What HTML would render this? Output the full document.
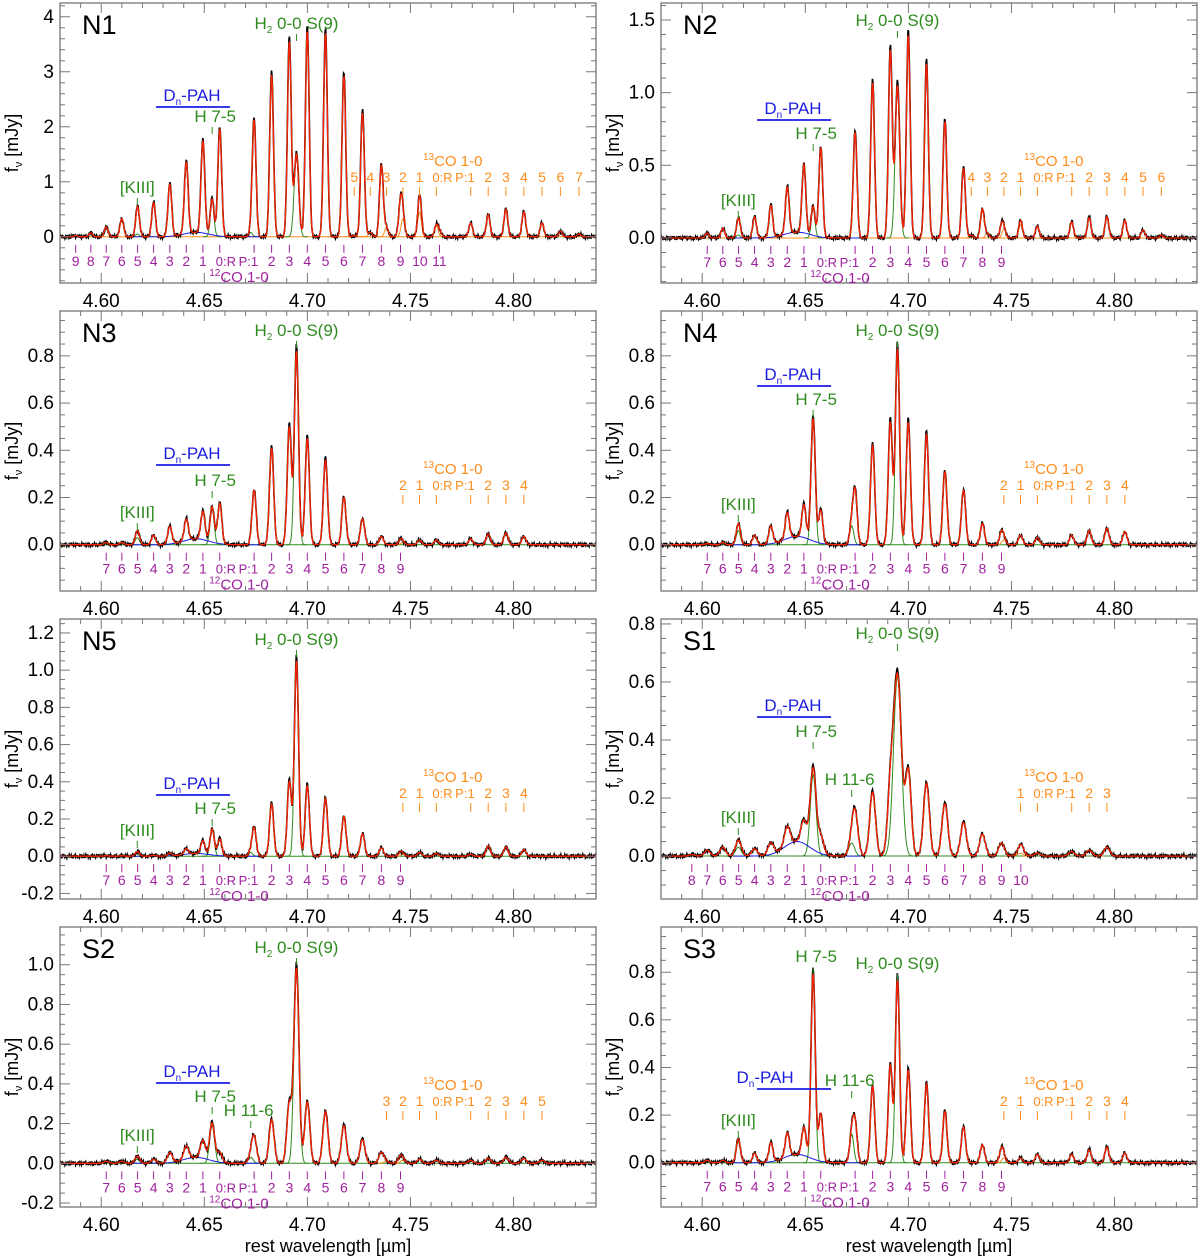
<!DOCTYPE html>
<html><head><meta charset="utf-8"><style>
html,body{margin:0;padding:0;background:#fff;}
svg{display:block;font-family:"Liberation Sans",Arial,sans-serif;}
</style></head><body>
<svg id="fig" width="1200" height="1259" viewBox="0 0 1200 1259" xmlns="http://www.w3.org/2000/svg"></svg>
<script>
// ---- data ----
const panelNames = ['N1','N2','N3','N4','N5','S1','S2','S3'];
const yMin = [-0.84,-0.31,-0.196,-0.196,-0.23,-0.148,-0.22,-0.186];
const yMax = [4.25,1.617,0.99,0.99,1.275,0.817,1.19,0.99];
const yMajor = [1,0.5,0.2,0.2,0.2,0.2,0.2,0.2];
const yMinor = [0.2,0.1,0.05,0.05,0.05,0.05,0.05,0.05];
const yDec = [0,1,1,1,1,1,1,1];
const xTicks = [4.60,4.65,4.70,4.75,4.80];
const xTickLabels = ['4.60','4.65','4.70','4.75','4.80'];
const lineSigma = [0.0009,0.0009,0.001,0.001,0.001,0.0014,0.0012,0.001];
const h2Sigma = [0.0011,0.0011,0.001,0.001,0.001,0.0019,0.0012,0.001];
// 12CO 1-0 R(0..) and P(1..) peak fluxes [mJy]
const co12R = [
 [1.95,1.68,1.3,0.95,0.62,0.50,0.33,0.18,0.07,0.02],
 [0.615,0.47,0.32,0.22,0.145,0.12,0.067,0.034],
 [0.17,0.12,0.09,0.075,0.04,0.03,0.01,0.01],
 [0.14,0.14,0.11,0.075,0.04,0.03,0.01,0.005],
 [0.09,0.07,0.03,0.015,0.005,0.01,0.003,0.003],
 [0.06,0.08,0.065,0.04,0.025,0.025,0.03,0.02,0.005],
 [0.05,0.09,0.065,0.05,0.02,0.015,0.01,0.01],
 [0.2,0.12,0.1,0.08,0.04,0.01,0.01,0.01]];
const co12P = [
 [2.12,2.95,3.55,3.75,3.7,2.92,2.25,1.3,0.6,0.3,0.1],
 [0.73,1.07,1.29,1.40,1.2,0.8,0.48,0.2,0.08,0.03],
 [0.23,0.41,0.5,0.45,0.36,0.2,0.11,0.035,0.02],
 [0.22,0.42,0.52,0.52,0.47,0.31,0.23,0.09,0.05],
 [0.15,0.28,0.4,0.38,0.31,0.215,0.12,0.045,0.02],
 [0.14,0.22,0.2,0.29,0.25,0.18,0.115,0.075,0.045,0.03],
 [0.13,0.22,0.3,0.31,0.26,0.19,0.12,0.055,0.03],
 [0.16,0.32,0.41,0.39,0.33,0.215,0.15,0.075,0.055]];
const co13R = [[0.2,0.45,0.33,0.17,0.08,0.02],[0.08,0.09,0.06,0.03,0.02],[0.02,0.02,0.01],[0.03,0.04,0.02],[0.015,0.02,0.01],[0.01,0.01],[0.015,0.02,0.015,0.01],[0.035,0.02,0.02]];
const co13P = [[0.25,0.4,0.5,0.45,0.25,0.1,0.05],[0.11,0.14,0.145,0.12,0.055,0.02],[0.025,0.045,0.05,0.035],[0.04,0.06,0.07,0.055],[0.01,0.055,0.05,0.035],[0.015,0.02,0.03],[0.015,0.025,0.03,0.025,0.015],[0.035,0.055,0.065,0.04]];
const h2Amp = [1.5,1.05,0.82,0.83,1.05,0.62,0.98,0.77];
const h75Amp = [0.65,0.2,0.15,0.52,0.14,0.28,0.19,0.78];
const kiiiAmp = [0.05,0.02,0.03,0.06,0.015,0.03,0.02,0.09];
const h116Amp = [0.08,0.0,0.0,0.08,0.02,0.045,0.03,0.12];
const pahAmp = [0.08,0.04,0.025,0.035,0.015,0.05,0.03,0.035];
// label lists
const co12RLab = [9,7,7,7,7,8,7,7];
const co12PLab = [11,9,9,9,9,10,9,9];
const co13RLab = [5,4,2,2,2,1,3,2];
const co13PLab = [7,6,4,4,4,3,5,4];
const hasH116 = [false,false,false,false,false,true,true,true];
// annotation vertical positions (px from panel top)
const h2LabY = [21,18,20,20,21,15,21,37];
const h75LabY = [114,131,170,89,190,113,170,30];
const pahLabY = [93,106,143,64,165,87,145,151];
const kiiiLabY = [185,198,202,194,212,199,209,194];
const h116LabY = [0,0,0,0,0,161,184,154];

// ---- constants ----
const L0=4.58, L1=4.84;
const LAM_H2=4.6947, LAM_H75=4.6538, LAM_KIII=4.6175, LAM_H116=4.6725, LAM_PAH=4.646, SIG_PAH=0.0062;
const GREEN='#2e8b1e', PURPLE='#a020a0', ORANGE='#ff8c1a', BLUE='#1c1ce0', RED='#ff2200';
const svg=document.getElementById('fig');
const NS='http://www.w3.org/2000/svg';
function mk(tag,attrs,parent){const e=document.createElementNS(NS,tag);for(const k in attrs)e.setAttribute(k,attrs[k]);(parent||svg).appendChild(e);return e;}
function co12Rlam(J){const m=J+1;return 1e4/(2143.27+3.8275*m-0.0175*m*m);}
function co12Plam(J){const m=-J;return 1e4/(2143.27+3.8275*m-0.0175*m*m);}
function co13Rlam(J){const m=J+1;return 1e4/(2096.07+3.659*m-0.0167*m*m);}
function co13Plam(J){const m=-J;return 1e4/(2096.07+3.659*m-0.0167*m*m);}
function g(l,c,a,s){const d=(l-c)/s;return a*Math.exp(-0.5*d*d);}

for(let p=0;p<8;p++){
  const col=p%2,row=Math.floor(p/2);
  const x0=col?661:60, x1=col?1197:596, top=3+row*308, bot=top+280;
  const X=l=>x0+(l-L0)/(L1-L0)*(x1-x0);
  const Y=v=>bot-(v-yMin[p])/(yMax[p]-yMin[p])*(bot-top);
  const G=mk('g',{});
  
  
  const sg=lineSigma[p];
  const comps=[];
  co12R[p].forEach((a,J)=>comps.push({c:co12Rlam(J),a:a,s:sg,k:'co'}));
  co12P[p].forEach((a,i)=>comps.push({c:co12Plam(i+1),a:a,s:sg,k:'co'}));
  co13R[p].forEach((a,J)=>comps.push({c:co13Rlam(J),a:a,s:sg,k:'c13'}));
  co13P[p].forEach((a,i)=>comps.push({c:co13Plam(i+1),a:a,s:sg,k:'c13'}));
  comps.push({c:LAM_H2,a:h2Amp[p],s:h2Sigma[p],k:'gr'});
  comps.push({c:LAM_H75,a:h75Amp[p],s:sg,k:'gr'});
  comps.push({c:LAM_KIII,a:kiiiAmp[p],s:sg,k:'gr'});
  comps.push({c:LAM_H116,a:h116Amp[p],s:sg,k:'gr'});
  comps.push({c:LAM_PAH,a:pahAmp[p],s:SIG_PAH,k:'pah'});
  const N=1100, lams=[];
  for(let i=0;i<=N;i++)lams.push(L0+(L1-L0)*i/N);
  const model=lams.map(l=>comps.reduce((s,c)=>s+g(l,c.c,c.a,c.s),0));
  const clip=mk('clipPath',{id:'clip'+p},G);
  mk('rect',{x:x0,y:top,width:x1-x0,height:280},clip);
  const pl=mk('g',{'clip-path':'url(#clip'+p+')'},G);
  const z=mk('line',{x1:x0,x2:x1,y1:Y(0),y2:Y(0),stroke:p<2?ORANGE:GREEN,'stroke-width':1},pl);
  
  
  const drawComp=(c,color,name)=>{
    const lo=c.c-5*c.s, hi=c.c+5*c.s;let d='';
    for(let i=0;i<=60;i++){const l=lo+(hi-lo)*i/60;d+=(i?'L':'M')+X(l).toFixed(1)+','+Y(g(l,c.c,c.a,c.s)).toFixed(1);}
    const e=mk('path',{d:d,fill:'none',stroke:color,'stroke-width':1},pl);
    
    
  };
  comps.forEach(c=>{
    if(c.a<=0)return;
    if(c.k==='gr')drawComp(c,GREEN,'gaussian-component-green');
    else if(c.k==='pah')drawComp(c,BLUE,'pah-component');
    else if(c.k==='c13')drawComp(c,ORANGE,'co13-component');
  });
  const rng=yMax[p]-yMin[p];
  let dB='',dR='';
  lams.forEach((l,i)=>{
    const w=0.004*rng*(Math.sin(i*1.7)+0.6*Math.sin(i*0.53+p)+0.4*Math.sin(i*3.1));
    dB+=(i?'L':'M')+X(l).toFixed(1)+','+Y(model[i]*1.025+w).toFixed(1);
    dR+=(i?'L':'M')+X(l).toFixed(1)+','+Y(model[i]).toFixed(1);
  });
  const bl=mk('path',{d:dB,fill:'none',stroke:'#000','stroke-width':1.6},pl);
  
  
  const rl=mk('path',{d:dR,fill:'none',stroke:RED,'stroke-width':1.3},pl);
  
  
  const fr=mk('rect',{x:x0,y:top,width:x1-x0,height:280,fill:'none',stroke:'#777','stroke-width':1.3},G);
  
  
  for(let l=4.58;l<=4.8401;l+=0.01){
    const major=Math.abs(Math.round(l*100)%5)===0, len=major?10:5, xx=X(l);
    mk('line',{x1:xx,x2:xx,y1:bot,y2:bot-len,stroke:'#777','stroke-width':1},G);
    mk('line',{x1:xx,x2:xx,y1:top,y2:top+len,stroke:'#777','stroke-width':1},G);
  }
  xTicks.forEach((l,i)=>{
    const t=mk('text',{x:X(l),y:bot+24,'text-anchor':'middle','font-size':19,fill:'#000'},G);
    t.textContent=xTickLabels[i];
    
    
  });
  const s0=Math.ceil(yMin[p]/yMinor[p]-1e-6), s1=Math.floor(yMax[p]/yMinor[p]+1e-6);
  for(let k=s0;k<=s1;k++){
    const v=k*yMinor[p], yy=Y(v);
    const major=Math.abs(v/yMajor[p]-Math.round(v/yMajor[p]))<1e-6, len=major?10:5;
    mk('line',{x1:x0,x2:x0+len,y1:yy,y2:yy,stroke:'#777','stroke-width':1},G);
    mk('line',{x1:x1,x2:x1-len,y1:yy,y2:yy,stroke:'#777','stroke-width':1},G);
    if(major){
      const t=mk('text',{x:x0-6,y:yy+6,'text-anchor':'end','font-size':19,fill:'#000'},G);
      t.textContent=(Math.abs(v)<1e-9?0:v).toFixed(yDec[p]);
      
      
    }
  }
  const yt=mk('text',{x:0,y:0,'text-anchor':'middle','font-size':18,fill:'#000',transform:'translate('+(x0-42)+','+(top+140)+') rotate(-90)'},G);
  yt.innerHTML='f<tspan font-size="11" dy="4">ν</tspan><tspan dy="-4"> [mJy]</tspan>';
  
  
  const pn=mk('text',{x:x0+22,y:top+31,'font-size':27,fill:'#000'},G);
  pn.textContent=panelNames[p];
  
  
  const lab=(x,yc,html,color,size,name,anchor)=>{
    const t=mk('text',{x:x,y:yc+5,'text-anchor':anchor||'middle','font-size':size,fill:color},G);
    t.innerHTML=html;
    
    
    return t;
  };
  const tk=(x,ya,yb,color)=>mk('line',{x1:x,x2:x,y1:ya,y2:yb,stroke:color,'stroke-width':1},G);
  lab(X(LAM_H2),top+h2LabY[p],'H<tspan font-size="10" dy="4">2</tspan><tspan dy="-4"> 0-0 S(9)</tspan>',GREEN,17,'h2-label');
  tk(X(LAM_H2),top+h2LabY[p]+10,top+h2LabY[p]+17,GREEN);
  lab(X(LAM_H75)+3,top+h75LabY[p],'H 7-5',GREEN,17,'h75-label');
  tk(X(LAM_H75),top+h75LabY[p]+10,top+h75LabY[p]+17,GREEN);
  lab(X(LAM_KIII),top+kiiiLabY[p],'[KIII]',GREEN,17,'kiii-label');
  tk(X(LAM_KIII),top+kiiiLabY[p]+10,top+kiiiLabY[p]+17,GREEN);
  if(hasH116[p]){
    lab(X(LAM_H116)-2,top+h116LabY[p],'H 11-6',GREEN,17,'h116-label');
    tk(X(LAM_H116),top+h116LabY[p]+10,top+h116LabY[p]+17,GREEN);
  }
  const pahX=p===7?X(4.6305):X(4.644);
  lab(pahX,top+pahLabY[p],'D<tspan font-size="10" dy="4">n</tspan><tspan dy="-4">-PAH</tspan>',BLUE,17,'pah-label');
  const pline=mk('line',{x1:X(4.6266),x2:X(4.6625),y1:top+pahLabY[p]+11,y2:top+pahLabY[p]+11,stroke:BLUE,'stroke-width':1.8},G);
  
  
  const y0=Y(0);
  for(let J=0;J<=co12RLab[p];J++){
    const xx=X(co12Rlam(J));
    tk(xx,y0+8,y0+16,PURPLE);
    if(J===0)lab(xx-4,y0+24,'0:R',PURPLE,13,'co12-r-label','start');
    else lab(xx,y0+24,String(J),PURPLE,14,'co12-r-label');
  }
  for(let J=1;J<=co12PLab[p];J++){
    const xx=X(co12Plam(J));
    tk(xx,y0+8,y0+16,PURPLE);
    if(J===1)lab(xx+4,y0+24,'P:1',PURPLE,13,'co12-p-label','end');
    else lab(xx,y0+24,String(J),PURPLE,14,'co12-p-label');
  }
  lab(X(4.6668),y0+40,'<tspan font-size="10" dy="-6">12</tspan><tspan dy="6">CO 1-0</tspan>',PURPLE,15,'co12-title');
  for(let J=0;J<=co13RLab[p];J++){
    const xx=X(co13Rlam(J));
    tk(xx,top+184,top+193,ORANGE);
    if(J===0)lab(xx-4,top+174,'0:R',ORANGE,13,'co13-r-label','start');
    else lab(xx,top+174,String(J),ORANGE,14,'co13-r-label');
  }
  for(let J=1;J<=co13PLab[p];J++){
    const xx=X(co13Plam(J));
    tk(xx,top+184,top+193,ORANGE);
    if(J===1)lab(xx+4,top+174,'P:1',ORANGE,13,'co13-p-label','end');
    else lab(xx,top+174,String(J),ORANGE,14,'co13-p-label');
  }
  lab(X(4.7705),top+158,'<tspan font-size="10" dy="-6">13</tspan><tspan dy="6">CO 1-0</tspan>',ORANGE,15,'co13-title');
}
[328,929].forEach(x=>{
  const t=mk('text',{x:x,y:1252,'text-anchor':'middle','font-size':18,fill:'#000'});
  t.textContent='rest wavelength [µm]';
  
  
});
</script>
</body></html>
